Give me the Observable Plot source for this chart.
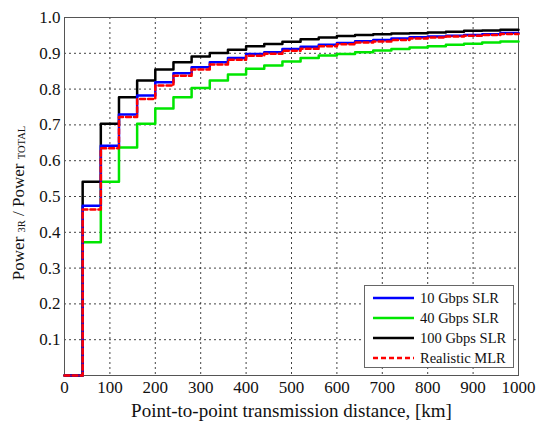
<!DOCTYPE html>
<html>
<head>
<meta charset="utf-8">
<script src="https://cdn.jsdelivr.net/npm/d3@7"></script>
<script src="https://cdn.jsdelivr.net/npm/@observablehq/plot@0.6"></script>
<style>
  html, body { margin: 0; padding: 0; background: white; }
  #wrap { position: relative; width: 539px; height: 423px; font-family: "Liberation Serif", serif; }
  #wrap svg, #wrap svg text { font-family: "Liberation Serif", serif !important; }
  #legend { position: absolute; left: 364px; top: 285px; width: 150px; height: 83px; border: 1px solid #666; background: white; box-sizing: border-box; }
  .row { position: absolute; left: 0; height: 20px; display: flex; align-items: center; font-size: 14.5px; color: #111; font-family: "Liberation Serif", serif; }
  .row svg { margin-left: 8px; margin-right: 6px; }
</style>
</head>
<body>
<div id="wrap"></div>
<script>
// Step start positions (km); each value holds until the next start, last until 1000
const stepStarts = [0, 40, 80, 120, 160, 200, 240, 280, 320, 360, 400, 440, 480, 520, 560, 600, 640, 680, 720, 760, 800, 840, 880, 920, 960, 1000];

const slr10  = [0, 0.474, 0.642, 0.729, 0.782, 0.819, 0.844, 0.861, 0.875, 0.887, 0.898, 0.903, 0.912, 0.918, 0.924, 0.929, 0.934, 0.937, 0.941, 0.945, 0.947, 0.949, 0.951, 0.953, 0.957, 0.957];
const slr40  = [0, 0.372, 0.541, 0.637, 0.703, 0.746, 0.777, 0.803, 0.824, 0.841, 0.857, 0.866, 0.877, 0.887, 0.894, 0.898, 0.903, 0.908, 0.912, 0.916, 0.920, 0.924, 0.927, 0.930, 0.933, 0.933];
const slr100 = [0, 0.541, 0.703, 0.777, 0.824, 0.855, 0.875, 0.891, 0.901, 0.910, 0.920, 0.926, 0.932, 0.939, 0.944, 0.948, 0.951, 0.953, 0.955, 0.956, 0.958, 0.960, 0.963, 0.964, 0.966, 0.966];
const mlr    = [0, 0.464, 0.635, 0.722, 0.772, 0.810, 0.837, 0.855, 0.869, 0.882, 0.893, 0.899, 0.907, 0.913, 0.920, 0.925, 0.930, 0.933, 0.937, 0.941, 0.944, 0.947, 0.949, 0.951, 0.954, 0.954];

const seriesNames = ["10 Gbps SLR", "40 Gbps SLR", "100 Gbps SLR", "Realistic MLR"];
const xTickValues = [0, 100, 200, 300, 400, 500, 600, 700, 800, 900, 1000];
const yTickValues = [0.1, 0.2, 0.3, 0.4, 0.5, 0.6, 0.7, 0.8, 0.9, 1.0];

const toRows = (vals) => stepStarts.map((x, i) => ({x, y: vals[i]}));

const chart = Plot.plot({
  width: 539,
  height: 423,
  marginLeft: 64,
  marginRight: 21,
  marginTop: 17,
  marginBottom: 48,
  style: {fontFamily: "Liberation Serif, serif", fontSize: "17px", color: "#111", background: "white"},
  x: {domain: [0, 1000]},
  y: {domain: [0, 1]},
  marks: [
    Plot.gridX(xTickValues.filter(d => d > 0 && d < 1000), {stroke: "#222", strokeOpacity: 0.85, strokeDasharray: "2,3"}),
    Plot.gridY(yTickValues.filter(d => d < 1), {stroke: "#222", strokeOpacity: 0.85, strokeDasharray: "2,3"}),
    Plot.axisX(xTickValues, {tickSize: 0, tickPadding: 5, tickFormat: d3.format("d"), label: null, fontSize: 17}),
    Plot.axisX({tickSize: 0, ticks: [], label: "Point-to-point transmission distance, [km]", labelAnchor: "center", labelArrow: "none", labelOffset: 41, fontSize: 19}),
    Plot.axisY(yTickValues, {tickSize: 0, tickPadding: 4, tickFormat: d3.format(".1f"), label: null, fontSize: 17}),
    Plot.frame({stroke: "#555", strokeWidth: 1}),
    Plot.line(toRows(slr40), {x: "x", y: "y", curve: "step-after", stroke: "#00e600", strokeWidth: 2.5}),
    Plot.line(toRows(slr100), {x: "x", y: "y", curve: "step-after", stroke: "#000", strokeWidth: 2.5}),
    Plot.line(toRows(slr10), {x: "x", y: "y", curve: "step-after", stroke: "#0000ff", strokeWidth: 2.5}),
    Plot.line(toRows(mlr), {x: "x", y: "y", curve: "step-after", stroke: "#ff0000", strokeWidth: 2.5, strokeDasharray: "5,3"})
  ]
});

const wrap = document.getElementById("wrap");
wrap.appendChild(chart);

// y-axis label with subscripts
const yl = d3.select(chart).append("text")
  .attr("transform", "translate(24,203) rotate(-90)")
  .attr("text-anchor", "middle")
  .attr("font-size", 17)
  .attr("fill", "#111");
yl.append("tspan").text("Power ");
yl.append("tspan").attr("font-size", 10.5).attr("dy", 1).text("3R");
yl.append("tspan").attr("dy", -1).text(" / Power ");
yl.append("tspan").attr("font-size", 10.5).attr("dy", 1).text("TOTAL");

// legend
const legendStyles = [
  {stroke: "#0000ff", dash: null},
  {stroke: "#00e600", dash: null},
  {stroke: "#000", dash: null},
  {stroke: "#ff0000", dash: "5,3"}
];
const legend = document.createElement("div");
legend.id = "legend";
seriesNames.forEach((name, i) => {
  const row = document.createElement("div");
  row.className = "row";
  row.style.top = (2 + i * 20) + "px";
  const s = legendStyles[i];
  row.innerHTML = `<svg width="41" height="6"><line x1="0" y1="3" x2="41" y2="3" stroke="${s.stroke}" stroke-width="2.5" ${s.dash ? `stroke-dasharray="${s.dash}"` : ""}/></svg><span>${name}</span>`;
  legend.appendChild(row);
});
wrap.appendChild(legend);
</script>
</body>
</html>
